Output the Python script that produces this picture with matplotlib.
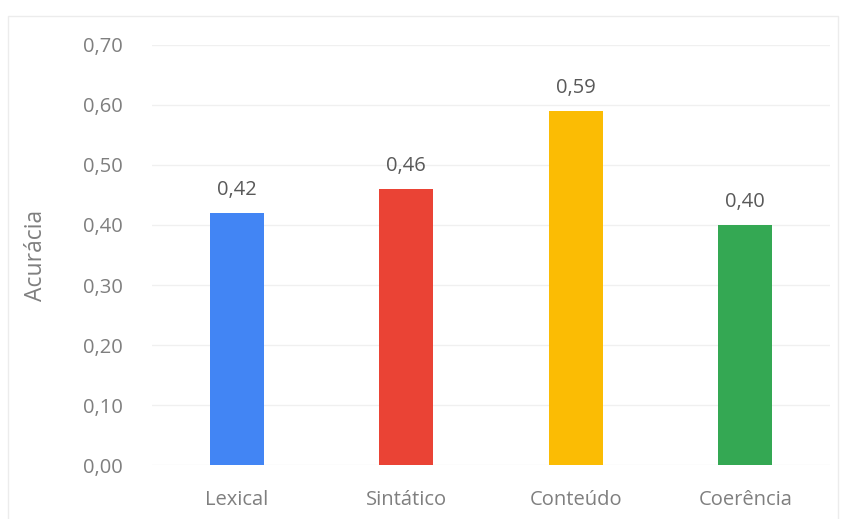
import matplotlib.pyplot as plt
from matplotlib.patches import Rectangle
from matplotlib.ticker import FuncFormatter

categories = ["Lexical", "Sintático", "Conteúdo", "Coerência"]
values = [0.42, 0.46, 0.59, 0.40]
colors = ["#4285F4", "#EA4335", "#FBBC04", "#34A853"]
yticks = [0.0, 0.1, 0.2, 0.3, 0.4, 0.5, 0.6, 0.7]


def fmt(v):
    return f"{v:.2f}".replace(".", ",")


plt.rcParams["font.family"] = ["Open Sans", "DejaVu Sans"]

fig = plt.figure(figsize=(8.46, 5.19), dpi=100)
fig.patch.set_facecolor("white")
ax = fig.add_axes([152 / 846, 54 / 519, 678 / 846, 420 / 519])

x = range(len(categories))
ax.bar(x, values, width=0.32, color=colors, zorder=3)
for xi, v in zip(x, values):
    ax.text(xi, v + 0.022, fmt(v), ha="center", va="bottom",
            fontsize=14.5, color="#595959")

ax.set_xlim(-0.5, 3.5)
ax.set_ylim(0, 0.7)
ax.set_yticks(yticks)
ax.yaxis.set_major_formatter(FuncFormatter(lambda v, _: fmt(v)))
ax.set_xticks(list(x))
ax.set_xticklabels(categories)
ax.tick_params(axis="both", length=0, colors="#7f7f7f", labelsize=14.5)
ax.tick_params(axis="y", pad=21)
ax.tick_params(axis="x", pad=18)
ax.grid(axis="y", color="#f0f0f0", linewidth=1, zorder=0)
for s in ax.spines.values():
    s.set_visible(False)
ax.set_ylabel("Acurácia", fontsize=16.5, color="#7f7f7f", labelpad=25)

fig.patches.append(Rectangle((8 / 846, -0.01), 830 / 846, 1 - 16 / 519 + 0.01,
                             transform=fig.transFigure, fill=False,
                             edgecolor="#ececec", linewidth=1))

fig.savefig("out.png", dpi=100)
